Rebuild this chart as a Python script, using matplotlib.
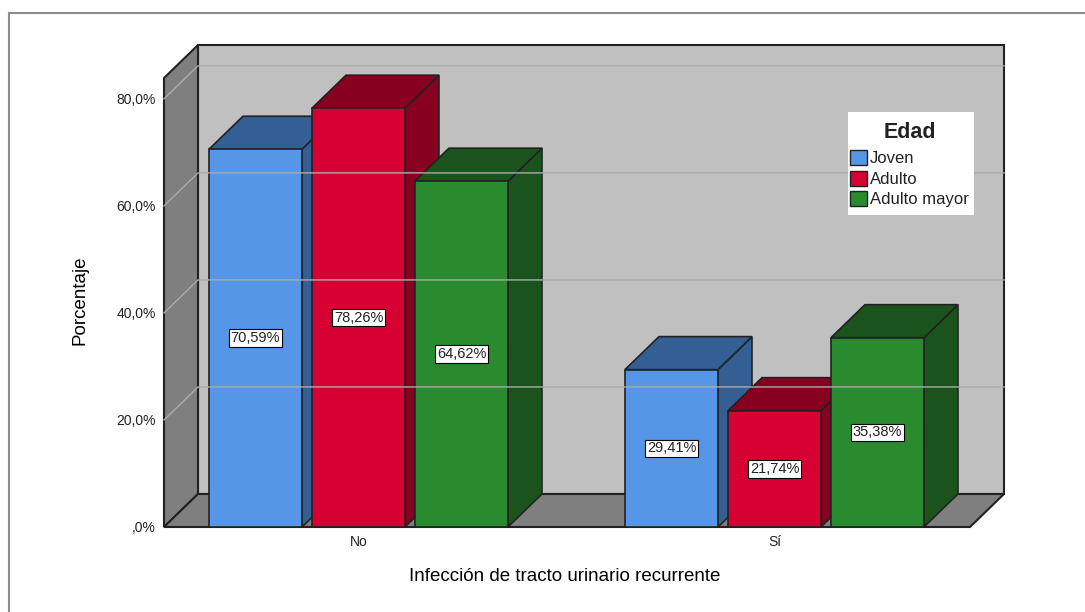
import matplotlib.pyplot as plt
from matplotlib.patches import Polygon, Rectangle, Patch

# data
categories = ["No", "Sí"]
groups = ["Joven", "Adulto", "Adulto mayor"]
joven = [70.59, 29.41]
adulto = [78.26, 21.74]
adulto_mayor = [64.62, 35.38]
yticks = [0, 20, 40, 60, 80]
ytick_labels = [",0%", "20,0%", "40,0%", "60,0%", "80,0%"]

front_colors = ["#5596e6", "#d60032", "#2a8a2e"]
dark_colors = ["#345f94", "#870020", "#1b531c"]

plt.rcParams['font.family'] = ['Liberation Sans', 'DejaVu Sans']
plt.rcParams['text.color'] = '#222222'

W, H = 1085, 612
fig = plt.figure(figsize=(W / 100, H / 100), dpi=100)
ax = fig.add_axes([164 / W, (H - 527) / H, 806 / W, 449 / H])
ax.set_xlim(-0.4675, 1.47)
ax.set_ylim(0, 83.9)
ax.patch.set_visible(False)
for s in ax.spines.values():
    s.set_visible(False)

x0, x1 = ax.get_xlim()
y0, y1 = ax.get_ylim()
# depth of the 3D box, 34 px right and 33 px up
DX = 34 * (x1 - x0) / 806
DY = 33 * (y1 - y0) / 449

edge = "#222222"
# walls and floor
ax.add_patch(Rectangle((x0 + DX, DY), x1 - x0, y1, fc="#c0c0c0", ec=edge, lw=1.5, clip_on=False))
ax.add_patch(Polygon([(x0, 0), (x0, y1), (x0 + DX, y1 + DY), (x0 + DX, DY)],
                     fc="#7f7f7f", ec=edge, lw=1.5, clip_on=False))
ax.add_patch(Polygon([(x0, 0), (x0 + DX, DY), (x1 + DX, DY), (x1, 0)],
                     fc="#7f7f7f", ec=edge, lw=1.5, clip_on=False))
for v in yticks[1:]:
    ax.plot([x0, x0 + DX, x1 + DX], [v, v + DY, v + DY], color="#ababab", lw=1, clip_on=False)

# bars
width = 93 / 416
step = 103 / 416
series = [joven, adulto, adulto_mayor]
for i in range(len(categories)):
    for j, vals in enumerate(series):
        v = vals[i]
        xc = i + (j - 1) * step
        xl, xr = xc - width / 2, xc + width / 2
        ax.add_patch(Polygon([(xr, 0), (xr + DX, DY), (xr + DX, v + DY), (xr, v)],
                             fc=dark_colors[j], ec=edge, lw=1.2, clip_on=False))
        ax.add_patch(Polygon([(xl, v), (xl + DX, v + DY), (xr + DX, v + DY), (xr, v)],
                             fc=dark_colors[j], ec=edge, lw=1.2, clip_on=False))
        ax.add_patch(Rectangle((xl, 0), width, v, fc=front_colors[j], ec=edge, lw=1.2, clip_on=False))
        ax.text(xc, v / 2, f"{v:.2f}%".replace(".", ","), ha="center", va="center", fontsize=10.5,
                bbox=dict(boxstyle="square,pad=0.12", fc="white", ec="black", lw=0.8))

ax.set_yticks(yticks, ytick_labels)
ax.set_xticks(range(len(categories)), categories)
ax.tick_params(axis="y", length=0, pad=6, labelsize=10, labelcolor="#222222")
ax.tick_params(axis="x", length=0, pad=6, labelsize=10, labelcolor="#222222")

ax.set_ylabel("Porcentaje", fontsize=13.5)
ax.yaxis.set_label_coords(-0.094, 0.505)
ax.set_xlabel("Infección de tracto urinario recurrente", fontsize=13.5)
ax.xaxis.set_label_coords(0.4975, -0.111)
ax.xaxis.label.set_va("center")

# legend: white box drawn separately, frameless legend inside
fig.add_artist(Rectangle((848 / W, 1 - 215 / H), 126 / W, 103 / H, transform=fig.transFigure,
                         fc="white", ec="none", zorder=4))
handles = [Patch(fc=c, ec=edge, lw=1) for c in front_colors]
leg = fig.legend(handles, groups, title="Edad", loc="upper left",
                 bbox_to_anchor=(850 / W, 1 - 122 / H), frameon=False, fontsize=12,
                 borderpad=0, handlelength=1.0, handleheight=1.0, handletextpad=0.2,
                 labelspacing=0.27, borderaxespad=0,
                 title_fontproperties={"weight": "bold", "size": 15.5})
leg._legend_box.sep = 5
leg.set_zorder(5)

# outer frame of the chart
fig.add_artist(Rectangle((9 / W, -0.05), 1.1, (H - 13) / H + 0.05, transform=fig.transFigure,
                         fill=False, ec="#8c8c8c", lw=1.5))

plt.savefig("out.png", dpi=100)
